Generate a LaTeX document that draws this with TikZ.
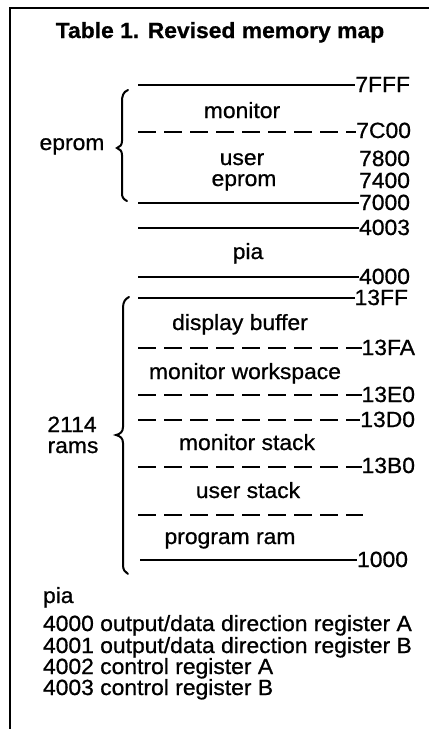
\documentclass[tikz,border=0pt]{standalone}
\usepackage{fontspec}
\setmainfont[FakeStretch=1.04, FakeBold=0.8]{Liberation Sans}
\begin{document}
\begin{tikzpicture}[x=1pt,y=-1pt,
  every node/.style={font=\fontsize{22}{25}\selectfont, inner sep=0pt, outer sep=0pt},
  addr/.style={anchor=base east},
  txt/.style={anchor=base},
  lft/.style={anchor=base west},
  solidln/.style={line width=1.4pt},
  dashln/.style={line width=1.6pt, dash pattern=on 18pt off 8pt},
  brc/.style={line width=2pt, line cap=round},
  frame/.style={line width=1.1pt}]
\useasboundingbox (0,0) rectangle (429,729);
% frame
\draw[frame] (10,729) -- (10,8) -- (429,8);
% title
\node[txt, font=\fontsize{22}{25}\selectfont\bfseries] (title) at (220,38) {Table 1. Revised memory map};
% address labels
\node[addr] (a7FFF) at (410,92) {7FFF};
\node[addr] (a7C00) at (411,138) {7C00};
\node[addr] (a7800) at (410,166) {7800};
\node[addr] (a7400) at (410,188) {7400};
\node[addr] (a7000) at (410,210) {7000};
\node[addr] (a4003) at (410,235) {4003};
\node[addr] (a4000) at (410,284) {4000};
\node[addr] (a13FF) at (408,305) {13FF};
\node[addr] (a13FA) at (415,355) {13FA};
\node[addr] (a13E0) at (415,402) {13E0};
\node[addr] (a13D0) at (415,427) {13D0};
\node[addr] (a13B0) at (415,473) {13B0};
\node[addr] (a1000) at (408,567) {1000};
% line starts
\coordinate (s7FFF) at (138,85);
\coordinate (s7C00) at (138,132);
\coordinate (s7000) at (138,203);
\coordinate (s4003) at (138,228);
\coordinate (s4000) at (138,277);
\coordinate (s13FF) at (138,298);
\coordinate (s13FA) at (138,348);
\coordinate (s13E0) at (138,395);
\coordinate (s13D0) at (138,420);
\coordinate (s13B0) at (138,467);
\coordinate (sus) at (138,515);
\coordinate (eus) at (363,515);
\coordinate (s1000) at (140,560);
% lines
\draw[solidln] (s7FFF) -- (s7FFF -| a7FFF.west);
\draw[dashln] (s7C00) -- (s7C00 -| a7C00.west);
\draw[solidln] (s7000) -- (s7000 -| a7000.west);
\draw[solidln] (s4003) -- (s4003 -| a4003.west);
\draw[solidln] (s4000) -- (s4000 -| a4000.west);
\draw[solidln] (s13FF) -- (s13FF -| a13FF.west);
\draw[dashln] (s13FA) -- (s13FA -| a13FA.west);
\draw[dashln] (s13E0) -- (s13E0 -| a13E0.west);
\draw[dashln] (s13D0) -- (s13D0 -| a13D0.west);
\draw[dashln] (s13B0) -- (s13B0 -| a13B0.west);
\draw[dashln] (sus) -- (eus);
\draw[solidln] (s1000) -- (s1000 -| a1000.west);
% region names
\node[txt] (monitor) at (242,118) {monitor};
\node[txt] (user) at (242,165) {user};
\node[txt] (ueprom) at (244,186) {eprom};
\node[txt] (pia) at (248,259) {pia};
\node[txt] (disp) at (240,330) {display buffer};
\node[txt] (mws) at (245,379) {monitor workspace};
\node[txt] (mst) at (247,450) {monitor stack};
\node[txt] (ust) at (248,498) {user stack};
\node[txt] (pram) at (230,544) {program ram};
% group names
\node[txt] (geprom) at (72,150) {eprom};
\node[txt] (g2114) at (72,432) {2114};
\node[txt] (grams) at (73,453) {rams};
% braces
\draw[brc] (128,90) .. controls (123,92) and (122,96) .. (122,102) -- (122,141)
  .. controls (122,145) and (120,147) .. (117,148)
  .. controls (120,149) and (122,151) .. (122,155) -- (122,193)
  .. controls (122,197) and (123,199) .. (127,201);
\draw[brc] (129,297) .. controls (125,299) and (123,302) .. (123,308) -- (123,427)
  .. controls (123,432) and (120,434) .. (116,435)
  .. controls (120,436) and (123,438) .. (123,443) -- (123,565)
  .. controls (123,570) and (125,572) .. (128,574);
% notes
\node[lft] (n0) at (43,603) {pia};
\node[lft] (n1) at (43,631) {4000 output/data direction register A};
\node[lft] (n2) at (43,653) {4001 output/data direction register B};
\node[lft] (n3) at (43,674) {4002 control register A};
\node[lft] (n4) at (43,695) {4003 control register B};
\end{tikzpicture}
\end{document}
